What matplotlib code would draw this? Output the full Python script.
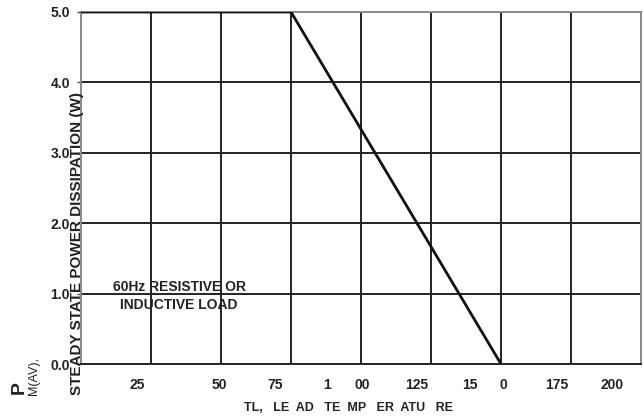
import matplotlib
matplotlib.use("Agg")
import matplotlib.pyplot as plt

# Data
temp = [0, 75, 150]
power = [5.0, 5.0, 0.0]
grid_x = [0, 25, 50, 75, 100, 125, 150, 175, 200]
y_ticks = [0.0, 1.0, 2.0, 3.0, 4.0, 5.0]
y_tick_labels = ["0.0", "1.0", "2.0", "3.0", "4.0", "5.0"]
x_label_pos = [20.0, 49.3, 69.3, 87.9, 100.4, 120.0, 138.9, 150.7, 170.0, 189.6]
x_label_txt = ["25", "50", "75", "1", "00", "125", "15", "0", "175", "200"]

fam = ["Liberation Sans Narrow", "Liberation Sans", "DejaVu Sans"]
plt.rcParams['font.family'] = fam

fig = plt.figure(figsize=(6.43, 4.19), dpi=100)
ax = fig.add_axes([81/643, 55/419, 560/643, 352/419])
ax.set_xlim(0, 200)
ax.set_ylim(0, 5)

for gx in grid_x[1:-1]:
    ax.axvline(gx, color="#222222", lw=1.4, zorder=1)
for gy in y_ticks[1:-1]:
    ax.axhline(gy, color="#222222", lw=1.4, zorder=1)

ax.plot(temp, power, color="#111111", lw=2.0, zorder=3, solid_capstyle="butt")

for side in ["top", "right", "left"]:
    ax.spines[side].set_color("#888888")
    ax.spines[side].set_linewidth(1.4)
ax.spines["bottom"].set_color("#222222")
ax.spines["bottom"].set_linewidth(1.4)

ax.set_yticks(y_ticks)
ax.set_yticklabels(y_tick_labels, fontsize=10, fontweight="bold", color="#222222")
ax.tick_params(axis="y", length=3, width=1, color="#444444", pad=5)

ax.set_xticks(x_label_pos)
ax.set_xticklabels(x_label_txt, fontsize=10, fontweight="bold", color="#222222")
ax.tick_params(axis="x", length=0, pad=10)

fig.text(348/643, 1 - 408/419, "TL,   LE  AD   TE  MP   ER  ATU   RE",
         ha="center", va="center", fontsize=9, fontweight="bold", color="#222222")

fig.text(77/643, 1 - 243/419, "STEADY STATE POWER DISSIPATION (W)",
         rotation=90, ha="center", va="center", fontsize=11, fontweight="bold",
         color="#222222")
fig.text(19/643, 1 - 388/419, "P", rotation=90, ha="center", va="center",
         fontsize=14, fontweight="bold", color="#222222")
fig.text(34/643, 1 - 376/419, "M(AV),", rotation=90, ha="center", va="center",
         fontsize=9, color="#222222")

ax.text(35.2, 1.09, "60Hz RESISTIVE OR", ha="center", va="center",
        fontsize=10, fontweight="bold", color="#222222", zorder=4)
ax.text(34.8, 0.84, "INDUCTIVE LOAD", ha="center", va="center",
        fontsize=10, fontweight="bold", color="#222222", zorder=4)

fig.savefig("out.png", dpi=100)
